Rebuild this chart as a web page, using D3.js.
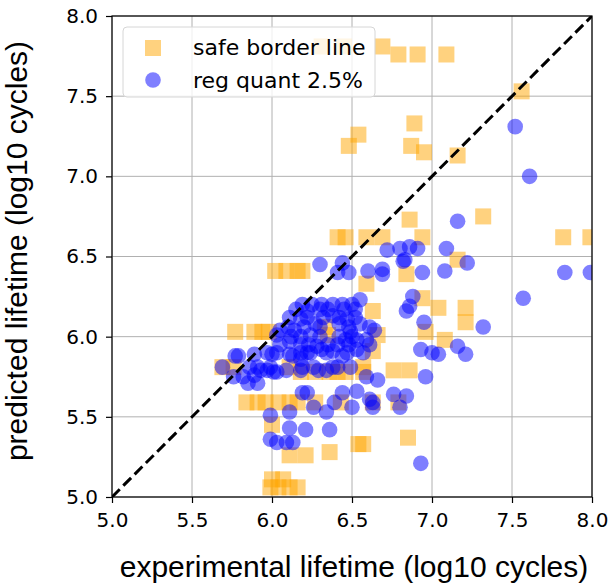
<!DOCTYPE html>
<html>
<head>
<meta charset="utf-8">
<script src="https://cdn.jsdelivr.net/npm/d3@7"></script>
<style>
  body { margin: 0; background: #fff; }
  svg { display: block; }
</style>
</head>
<body>
<svg id="chart"></svg>
<script>
// safe border line (orange squares): [experimental, predicted]
const safeBorder = [
  [6.31, 7.81], [6.45, 7.81], [6.69, 7.81], [6.79, 7.76], [6.91, 7.76], [7.09, 7.76],
  [7.56, 7.53], [6.89, 7.33], [6.54, 7.26], [6.48, 7.19], [6.87, 7.19], [6.95, 7.15],
  [7.16, 7.13], [6.86, 6.73], [7.32, 6.75],
  [6.41, 6.62], [6.46, 6.62], [6.59, 6.62], [6.69, 6.62], [6.94, 6.62], [7.82, 6.62], [7.99, 6.62],
  [6.02, 6.41], [6.09, 6.41], [6.16, 6.41], [6.19, 6.41], [6.84, 6.39], [7.16, 6.48],
  [6.59, 6.33], [6.94, 6.24], [7.04, 6.18], [7.21, 6.18], [7.21, 6.09], [6.63, 6.16],
  [6.66, 6.01], [6.63, 5.91], [6.96, 6.03], [7.08, 5.98], [6.33, 6.06], [6.35, 6.01],
  [5.77, 6.03], [5.89, 6.03], [5.94, 6.03], [5.98, 6.03],
  [6.11, 5.81], [5.69, 5.81], [5.76, 5.81],
  [6.18, 5.78], [6.27, 5.78], [6.36, 5.78], [6.41, 5.78], [6.46, 5.78], [6.57, 5.78], [6.57, 5.81],
  [6.76, 5.79], [6.86, 5.79],
  [5.84, 5.59], [5.91, 5.59], [5.96, 5.59], [6.04, 5.59], [6.11, 5.59], [6.16, 5.59],
  [6.27, 5.59], [6.43, 5.59], [6.63, 5.59], [6.79, 5.59],
  [6.00, 5.45], [6.11, 5.26], [6.21, 5.26], [6.36, 5.28], [6.54, 5.33], [6.57, 5.33], [6.85, 5.37],
  [6.00, 5.11], [6.07, 5.11], [5.99, 5.06], [6.04, 5.06], [6.11, 5.06], [6.16, 5.06]
];

// reg quant 2.5% (blue circles): [experimental, predicted]
const regQuant = [
  [7.52, 7.31], [7.61, 7.00], [7.16, 6.72], [7.83, 6.40], [7.99, 6.40], [7.57, 6.24],
  [7.32, 6.06], [7.09, 6.55], [7.22, 6.46], [7.08, 6.41], [6.94, 6.40], [6.88, 6.25],
  [6.86, 6.19], [6.84, 6.16], [6.95, 6.09], [6.93, 5.92], [7.00, 5.90], [7.04, 5.89],
  [7.16, 5.94], [7.21, 5.89], [6.96, 5.75], [6.93, 5.21],
  [6.72, 6.54], [6.80, 6.55], [6.86, 6.56], [6.91, 6.55], [6.83, 6.48], [6.69, 6.42],
  [6.69, 6.39], [6.82, 6.47], [6.30, 6.45], [6.44, 6.46], [6.41, 6.40], [6.48, 6.40],
  [6.60, 6.41], [6.55, 6.23],
  [6.19, 6.20], [6.25, 6.20], [6.31, 6.20], [6.38, 6.20], [6.44, 6.20], [6.50, 6.20],
  [6.15, 6.17], [6.30, 6.17], [6.35, 6.17], [6.45, 6.17], [6.52, 6.17],
  [6.22, 6.12], [6.32, 6.12], [6.42, 6.12], [6.52, 6.12],
  [6.10, 6.06], [6.20, 6.06], [6.30, 6.06], [6.48, 6.06],
  [6.12, 6.00], [6.18, 6.00], [6.30, 6.00], [6.42, 6.00], [6.50, 6.00],
  [6.05, 5.95], [6.23, 5.95], [6.35, 5.95], [6.48, 5.95],
  [6.11, 6.12], [6.05, 6.04], [6.03, 6.01], [6.22, 6.16], [6.18, 6.11], [6.38, 6.13],
  [6.47, 6.11], [6.55, 6.08], [6.61, 6.06], [6.64, 6.04], [6.49, 6.03], [6.53, 5.98],
  [6.41, 5.95], [6.28, 5.94], [6.18, 5.95], [6.11, 5.97], [6.27, 6.08], [6.42, 6.08],
  [6.24, 6.01], [6.14, 6.04], [6.59, 5.98], [6.46, 5.98],
  [6.03, 5.90], [6.13, 5.88], [6.22, 5.90], [6.34, 5.90], [6.44, 5.88], [6.57, 5.90],
  [6.49, 5.81], [6.38, 5.81], [6.29, 5.79], [6.19, 5.81], [5.99, 5.81], [5.93, 5.79],
  [5.86, 5.81], [5.79, 5.88], [5.69, 5.81], [5.76, 5.75],
  [5.77, 5.88], [5.89, 5.89], [5.97, 5.90], [6.11, 5.89], [6.18, 5.90], [6.24, 5.90],
  [6.31, 5.92], [6.38, 5.91], [6.47, 5.90], [6.53, 5.92], [6.61, 5.95],
  [6.01, 5.78], [6.09, 5.79], [6.18, 5.79], [6.26, 5.81], [6.34, 5.79], [6.41, 5.81],
  [5.82, 5.75], [5.85, 5.71], [5.91, 5.71], [5.89, 5.76], [6.59, 5.75], [6.66, 5.73],
  [5.91, 5.81], [5.97, 5.79], [6.00, 5.89], [6.03, 5.78], [6.18, 5.86],
  [6.22, 5.65], [6.19, 5.65], [6.44, 5.65], [6.53, 5.66], [6.63, 5.59], [6.76, 5.64],
  [6.84, 5.63], [6.39, 5.59], [6.50, 5.56], [6.63, 5.56], [6.26, 5.56], [6.34, 5.53],
  [6.80, 5.56], [6.61, 5.61],
  [5.99, 5.51], [6.11, 5.53], [6.21, 5.42], [6.11, 5.43], [6.36, 5.42],
  [5.99, 5.36], [6.03, 5.34], [6.09, 5.34], [6.13, 5.34]
];

const ticks = [5.0, 5.5, 6.0, 6.5, 7.0, 7.5, 8.0];
const seriesNames = ['safe border line', 'reg quant 2.5%'];

const W = 612, H = 586;
const margin = { top: 16, right: 20, bottom: 89, left: 112 };
const width = W - margin.left - margin.right;
const height = H - margin.top - margin.bottom;

const svg = d3.select('#chart').attr('width', W).attr('height', H);
const g = svg.append('g').attr('transform', `translate(${margin.left},${margin.top})`);

const x = d3.scaleLinear().domain([5, 8]).range([0, width]);
const y = d3.scaleLinear().domain([5, 8]).range([height, 0]);

g.append('clipPath').attr('id', 'clip')
  .append('rect').attr('width', width).attr('height', height);

// gridlines
g.append('g').selectAll('line').data(ticks).enter().append('line')
  .attr('x1', d => x(d)).attr('x2', d => x(d)).attr('y1', 0).attr('y2', height)
  .attr('stroke', '#b0b0b0').attr('stroke-width', 1);
g.append('g').selectAll('line').data(ticks).enter().append('line')
  .attr('y1', d => y(d)).attr('y2', d => y(d)).attr('x1', 0).attr('x2', width)
  .attr('stroke', '#b0b0b0').attr('stroke-width', 1);

const marks = g.append('g').attr('clip-path', 'url(#clip)');
const sq = 16;

marks.selectAll('.sq').data(safeBorder).enter().append('rect')
  .attr('class', 'sq')
  .attr('x', d => x(d[0]) - sq / 2).attr('y', d => y(d[1]) - sq / 2)
  .attr('width', sq).attr('height', sq)
  .attr('fill', 'orange').attr('fill-opacity', 0.5);

marks.selectAll('.dot').data(regQuant).enter().append('circle')
  .attr('class', 'dot')
  .attr('cx', d => x(d[0])).attr('cy', d => y(d[1])).attr('r', 7.8)
  .attr('fill', 'blue').attr('fill-opacity', 0.5);

// identity line
marks.append('line')
  .attr('x1', x(5)).attr('y1', y(5)).attr('x2', x(8)).attr('y2', y(8))
  .attr('stroke', '#000').attr('stroke-width', 3).attr('stroke-dasharray', '11,5');

// axes
const xAxis = d3.axisBottom(x).tickValues(ticks).tickFormat(d3.format('.1f')).tickSize(6).tickPadding(10);
const yAxis = d3.axisLeft(y).tickValues(ticks).tickFormat(d3.format('.1f')).tickSize(6).tickPadding(8);

const gx = g.append('g').attr('transform', `translate(0,${height})`).call(xAxis);
const gy = g.append('g').call(yAxis);
[gx, gy].forEach(a => {
  a.select('.domain').remove();
  a.selectAll('text').attr('font-family', 'DejaVu Sans').attr('font-size', 20).attr('fill', '#000');
  a.selectAll('.tick line').attr('stroke', '#000').attr('stroke-width', 1.2);
});

// frame
g.append('rect').attr('width', width).attr('height', height)
  .attr('fill', 'none').attr('stroke', '#000').attr('stroke-width', 1.2);

// axis labels
svg.append('text')
  .attr('x', 354).attr('y', 577)
  .attr('text-anchor', 'middle')
  .attr('font-family', 'Liberation Sans').attr('font-size', 30)
  .text('experimental lifetime (log10 cycles)');

svg.append('text')
  .attr('transform', `translate(27,251) rotate(-90)`)
  .attr('text-anchor', 'middle')
  .attr('font-family', 'Liberation Sans').attr('font-size', 30)
  .text('predicted lifetime (log10 cycles)');

// legend
const lg = g.append('g').attr('transform', 'translate(11,11)');
lg.append('rect').attr('width', 252).attr('height', 70).attr('rx', 4)
  .attr('fill', '#fff').attr('fill-opacity', 0.8)
  .attr('stroke', '#d6d6d6').attr('stroke-width', 1);
lg.append('rect').attr('x', 22).attr('y', 13).attr('width', sq).attr('height', sq)
  .attr('fill', 'orange').attr('fill-opacity', 0.5);
lg.append('circle').attr('cx', 30).attr('cy', 53).attr('r', 7.8)
  .attr('fill', 'blue').attr('fill-opacity', 0.5);
lg.selectAll('.lt').data(seriesNames).enter().append('text')
  .attr('class', 'lt')
  .attr('x', 70).attr('y', (d, i) => 28 + i * 33)
  .attr('font-family', 'DejaVu Sans').attr('font-size', 22).attr('fill', '#000')
  .text(d => d);
</script>
</body>
</html>
